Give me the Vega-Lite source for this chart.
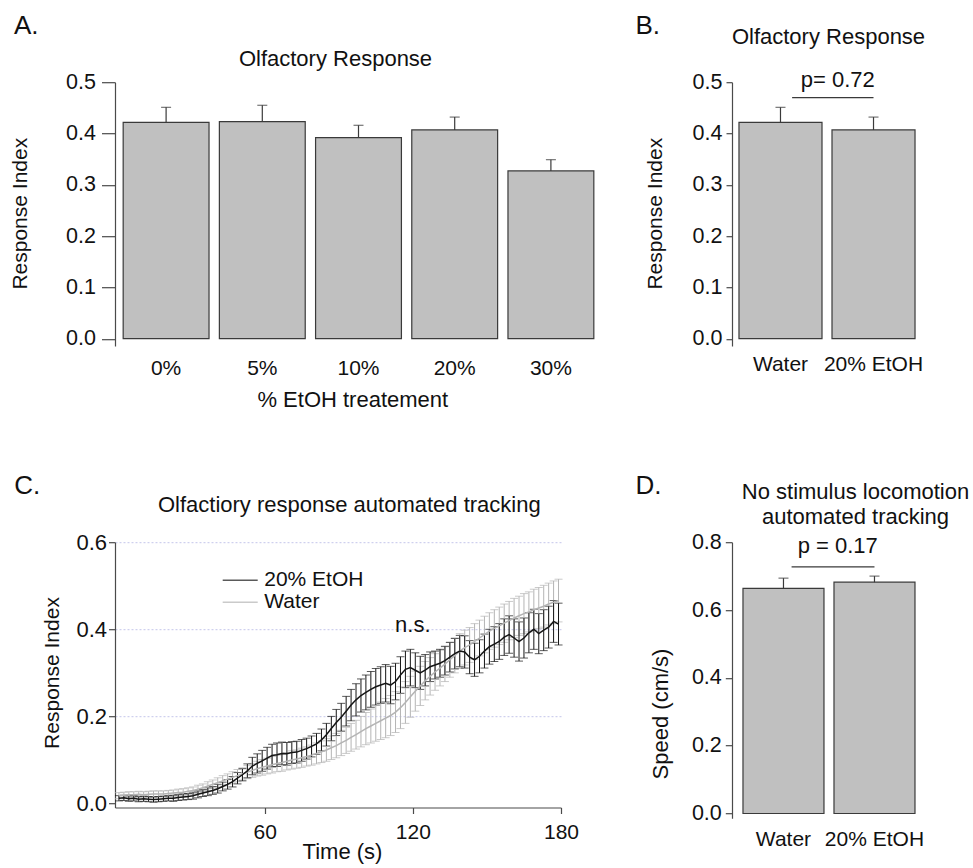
{
  "$schema": "https://vega.github.io/schema/vega-lite/v6.json",
  "autosize": {"type": "none"},
  "padding": {"left": 115, "top": 82.2, "right": 858, "bottom": 785.8},
  "background": "white",
  "config": {
    "font": "Liberation Sans",
    "view": {"stroke": null},
    "axis": {"labelFont": "Liberation Sans", "titleFont": "Liberation Sans", "labelColor": "#111", "titleColor": "#111", "titleFontWeight": "normal", "domainColor": "#4a4a4a", "tickColor": "#4a4a4a", "domainWidth": 1.2, "tickWidth": 1.2, "grid": false, "labelFlush": false, "labelOverlap": false},
    "legend": {"labelFont": "Liberation Sans", "labelColor": "#111"}
  },
  "datasets": {
    "ts": [
      {"t":1,"g":"Water","m":0.018,"s":0.007},{"t":3,"g":"Water","m":0.019,"s":0.007},{"t":5,"g":"Water","m":0.020,"s":0.007},{"t":7,"g":"Water","m":0.020,"s":0.007},{"t":9,"g":"Water","m":0.021,"s":0.007},{"t":11,"g":"Water","m":0.020,"s":0.007},{"t":13,"g":"Water","m":0.021,"s":0.007},{"t":15,"g":"Water","m":0.022,"s":0.007},{"t":17,"g":"Water","m":0.022,"s":0.007},{"t":19,"g":"Water","m":0.022,"s":0.007},
      {"t":21,"g":"Water","m":0.023,"s":0.007},{"t":23,"g":"Water","m":0.024,"s":0.007},{"t":25,"g":"Water","m":0.025,"s":0.008},{"t":27,"g":"Water","m":0.026,"s":0.008},{"t":29,"g":"Water","m":0.028,"s":0.008},{"t":31,"g":"Water","m":0.030,"s":0.008},{"t":33,"g":"Water","m":0.033,"s":0.009},{"t":35,"g":"Water","m":0.036,"s":0.009},{"t":37,"g":"Water","m":0.040,"s":0.010},{"t":39,"g":"Water","m":0.044,"s":0.010},
      {"t":41,"g":"Water","m":0.048,"s":0.011},{"t":43,"g":"Water","m":0.052,"s":0.012},{"t":45,"g":"Water","m":0.056,"s":0.012},{"t":47,"g":"Water","m":0.060,"s":0.013},{"t":49,"g":"Water","m":0.064,"s":0.014},{"t":51,"g":"Water","m":0.068,"s":0.014},{"t":53,"g":"Water","m":0.072,"s":0.015},{"t":55,"g":"Water","m":0.076,"s":0.016},{"t":57,"g":"Water","m":0.080,"s":0.017},{"t":59,"g":"Water","m":0.083,"s":0.018},
      {"t":61,"g":"Water","m":0.086,"s":0.018},{"t":63,"g":"Water","m":0.089,"s":0.019},{"t":65,"g":"Water","m":0.092,"s":0.019},{"t":67,"g":"Water","m":0.094,"s":0.020},{"t":69,"g":"Water","m":0.097,"s":0.020},{"t":71,"g":"Water","m":0.100,"s":0.021},{"t":73,"g":"Water","m":0.102,"s":0.021},{"t":75,"g":"Water","m":0.105,"s":0.022},{"t":77,"g":"Water","m":0.108,"s":0.022},{"t":79,"g":"Water","m":0.111,"s":0.023},
      {"t":81,"g":"Water","m":0.115,"s":0.024},{"t":83,"g":"Water","m":0.119,"s":0.025},{"t":85,"g":"Water","m":0.123,"s":0.026},{"t":87,"g":"Water","m":0.128,"s":0.027},{"t":89,"g":"Water","m":0.133,"s":0.028},{"t":91,"g":"Water","m":0.139,"s":0.029},{"t":93,"g":"Water","m":0.145,"s":0.030},{"t":95,"g":"Water","m":0.152,"s":0.032},{"t":97,"g":"Water","m":0.158,"s":0.033},{"t":99,"g":"Water","m":0.165,"s":0.035},
      {"t":101,"g":"Water","m":0.172,"s":0.037},{"t":103,"g":"Water","m":0.178,"s":0.039},{"t":105,"g":"Water","m":0.184,"s":0.041},{"t":107,"g":"Water","m":0.190,"s":0.043},{"t":109,"g":"Water","m":0.196,"s":0.045},{"t":111,"g":"Water","m":0.202,"s":0.046},{"t":113,"g":"Water","m":0.210,"s":0.047},{"t":115,"g":"Water","m":0.220,"s":0.048},{"t":117,"g":"Water","m":0.232,"s":0.048},{"t":119,"g":"Water","m":0.245,"s":0.047},
      {"t":121,"g":"Water","m":0.258,"s":0.046},{"t":123,"g":"Water","m":0.270,"s":0.045},{"t":125,"g":"Water","m":0.282,"s":0.044},{"t":127,"g":"Water","m":0.292,"s":0.043},{"t":129,"g":"Water","m":0.302,"s":0.042},{"t":131,"g":"Water","m":0.311,"s":0.041},{"t":133,"g":"Water","m":0.320,"s":0.040},{"t":135,"g":"Water","m":0.330,"s":0.040},{"t":137,"g":"Water","m":0.340,"s":0.040},{"t":139,"g":"Water","m":0.350,"s":0.040},
      {"t":141,"g":"Water","m":0.358,"s":0.040},{"t":143,"g":"Water","m":0.364,"s":0.040},{"t":145,"g":"Water","m":0.372,"s":0.041},{"t":147,"g":"Water","m":0.380,"s":0.041},{"t":149,"g":"Water","m":0.388,"s":0.042},{"t":151,"g":"Water","m":0.396,"s":0.042},{"t":153,"g":"Water","m":0.402,"s":0.043},{"t":155,"g":"Water","m":0.408,"s":0.043},{"t":157,"g":"Water","m":0.414,"s":0.044},{"t":159,"g":"Water","m":0.420,"s":0.044},
      {"t":161,"g":"Water","m":0.426,"s":0.045},{"t":163,"g":"Water","m":0.431,"s":0.045},{"t":165,"g":"Water","m":0.436,"s":0.046},{"t":167,"g":"Water","m":0.440,"s":0.046},{"t":169,"g":"Water","m":0.445,"s":0.047},{"t":171,"g":"Water","m":0.449,"s":0.047},{"t":173,"g":"Water","m":0.453,"s":0.048},{"t":175,"g":"Water","m":0.458,"s":0.048},{"t":177,"g":"Water","m":0.462,"s":0.049},{"t":179,"g":"Water","m":0.466,"s":0.049},
      {"t":1,"g":"20% EtOH","m":0.012,"s":0.006},{"t":3,"g":"20% EtOH","m":0.013,"s":0.006},{"t":5,"g":"20% EtOH","m":0.011,"s":0.006},{"t":7,"g":"20% EtOH","m":0.012,"s":0.006},{"t":9,"g":"20% EtOH","m":0.010,"s":0.006},{"t":11,"g":"20% EtOH","m":0.011,"s":0.006},{"t":13,"g":"20% EtOH","m":0.010,"s":0.006},{"t":15,"g":"20% EtOH","m":0.009,"s":0.006},{"t":17,"g":"20% EtOH","m":0.010,"s":0.006},{"t":19,"g":"20% EtOH","m":0.011,"s":0.006},
      {"t":21,"g":"20% EtOH","m":0.012,"s":0.006},{"t":23,"g":"20% EtOH","m":0.012,"s":0.007},{"t":25,"g":"20% EtOH","m":0.014,"s":0.007},{"t":27,"g":"20% EtOH","m":0.015,"s":0.007},{"t":29,"g":"20% EtOH","m":0.016,"s":0.007},{"t":31,"g":"20% EtOH","m":0.018,"s":0.008},{"t":33,"g":"20% EtOH","m":0.021,"s":0.008},{"t":35,"g":"20% EtOH","m":0.024,"s":0.008},{"t":37,"g":"20% EtOH","m":0.027,"s":0.009},{"t":39,"g":"20% EtOH","m":0.030,"s":0.009},
      {"t":41,"g":"20% EtOH","m":0.034,"s":0.010},{"t":43,"g":"20% EtOH","m":0.039,"s":0.010},{"t":45,"g":"20% EtOH","m":0.044,"s":0.011},{"t":47,"g":"20% EtOH","m":0.050,"s":0.012},{"t":49,"g":"20% EtOH","m":0.058,"s":0.013},{"t":51,"g":"20% EtOH","m":0.066,"s":0.014},{"t":53,"g":"20% EtOH","m":0.075,"s":0.016},{"t":55,"g":"20% EtOH","m":0.086,"s":0.020},{"t":57,"g":"20% EtOH","m":0.092,"s":0.022},{"t":59,"g":"20% EtOH","m":0.098,"s":0.024},
      {"t":61,"g":"20% EtOH","m":0.104,"s":0.025},{"t":63,"g":"20% EtOH","m":0.110,"s":0.026},{"t":65,"g":"20% EtOH","m":0.112,"s":0.027},{"t":67,"g":"20% EtOH","m":0.115,"s":0.026},{"t":69,"g":"20% EtOH","m":0.114,"s":0.026},{"t":71,"g":"20% EtOH","m":0.117,"s":0.025},{"t":73,"g":"20% EtOH","m":0.118,"s":0.025},{"t":75,"g":"20% EtOH","m":0.122,"s":0.025},{"t":77,"g":"20% EtOH","m":0.126,"s":0.024},{"t":79,"g":"20% EtOH","m":0.131,"s":0.024},
      {"t":81,"g":"20% EtOH","m":0.137,"s":0.024},{"t":83,"g":"20% EtOH","m":0.146,"s":0.025},{"t":85,"g":"20% EtOH","m":0.158,"s":0.026},{"t":87,"g":"20% EtOH","m":0.172,"s":0.028},{"t":89,"g":"20% EtOH","m":0.186,"s":0.030},{"t":91,"g":"20% EtOH","m":0.198,"s":0.032},{"t":93,"g":"20% EtOH","m":0.212,"s":0.034},{"t":95,"g":"20% EtOH","m":0.226,"s":0.036},{"t":97,"g":"20% EtOH","m":0.238,"s":0.037},{"t":99,"g":"20% EtOH","m":0.248,"s":0.038},
      {"t":101,"g":"20% EtOH","m":0.255,"s":0.040},{"t":103,"g":"20% EtOH","m":0.262,"s":0.041},{"t":105,"g":"20% EtOH","m":0.268,"s":0.042},{"t":107,"g":"20% EtOH","m":0.272,"s":0.042},{"t":109,"g":"20% EtOH","m":0.276,"s":0.043},{"t":111,"g":"20% EtOH","m":0.272,"s":0.043},{"t":113,"g":"20% EtOH","m":0.280,"s":0.042},{"t":115,"g":"20% EtOH","m":0.295,"s":0.042},{"t":117,"g":"20% EtOH","m":0.308,"s":0.042},{"t":119,"g":"20% EtOH","m":0.312,"s":0.042},
      {"t":121,"g":"20% EtOH","m":0.306,"s":0.040},{"t":123,"g":"20% EtOH","m":0.300,"s":0.038},{"t":125,"g":"20% EtOH","m":0.306,"s":0.036},{"t":127,"g":"20% EtOH","m":0.314,"s":0.034},{"t":129,"g":"20% EtOH","m":0.318,"s":0.032},{"t":131,"g":"20% EtOH","m":0.322,"s":0.032},{"t":133,"g":"20% EtOH","m":0.328,"s":0.033},{"t":135,"g":"20% EtOH","m":0.336,"s":0.034},{"t":137,"g":"20% EtOH","m":0.344,"s":0.035},{"t":139,"g":"20% EtOH","m":0.350,"s":0.036},
      {"t":141,"g":"20% EtOH","m":0.348,"s":0.037},{"t":143,"g":"20% EtOH","m":0.336,"s":0.038},{"t":145,"g":"20% EtOH","m":0.330,"s":0.038},{"t":147,"g":"20% EtOH","m":0.338,"s":0.038},{"t":149,"g":"20% EtOH","m":0.350,"s":0.039},{"t":151,"g":"20% EtOH","m":0.360,"s":0.040},{"t":153,"g":"20% EtOH","m":0.366,"s":0.040},{"t":155,"g":"20% EtOH","m":0.372,"s":0.041},{"t":157,"g":"20% EtOH","m":0.382,"s":0.042},{"t":159,"g":"20% EtOH","m":0.388,"s":0.043},
      {"t":161,"g":"20% EtOH","m":0.380,"s":0.044},{"t":163,"g":"20% EtOH","m":0.372,"s":0.045},{"t":165,"g":"20% EtOH","m":0.380,"s":0.046},{"t":167,"g":"20% EtOH","m":0.392,"s":0.046},{"t":169,"g":"20% EtOH","m":0.400,"s":0.046},{"t":171,"g":"20% EtOH","m":0.390,"s":0.046},{"t":173,"g":"20% EtOH","m":0.398,"s":0.047},{"t":175,"g":"20% EtOH","m":0.405,"s":0.048},{"t":177,"g":"20% EtOH","m":0.418,"s":0.048},{"t":179,"g":"20% EtOH","m":0.412,"s":0.048}
    ]
  },
  "columns": 2,
  "align": "each",
  "bounds": "flush",
  "spacing": {"row": 196, "column": 130},
  "concat": [
    {
      "width": 487,
      "height": 263.8,
      "data": {"values": [
        {"pct": "0%", "mean": 0.4215, "upper": 0.451},
        {"pct": "5%", "mean": 0.423, "upper": 0.455},
        {"pct": "10%", "mean": 0.392, "upper": 0.416},
        {"pct": "20%", "mean": 0.407, "upper": 0.432},
        {"pct": "30%", "mean": 0.327, "upper": 0.349}
      ]},
      "layer": [
        {
          "mark": {"type": "bar", "fill": "#c0c0c0", "stroke": "#3a3a3a", "strokeWidth": 1.2},
          "encoding": {
            "x": {"field": "pct", "type": "nominal", "scale": {"domain": ["0%", "5%", "10%", "20%", "30%"], "paddingInner": 0.1076, "paddingOuter": 0.085},
              "axis": {"orient": "bottom", "domain": false, "ticks": false, "tickSize": 0, "labelAngle": 0, "labelFontSize": 21, "labelPadding": 11.8, "title": "% EtOH treatement", "titleFontSize": 22, "titleX": 237.3, "titleY": 60, "titleAlign": "center", "titleBaseline": "alphabetic", "titleAngle": 0}},
            "y": {"field": "mean", "type": "quantitative", "scale": {"domain": [-0.0142, 0.5], "nice": false, "zero": false},
              "axis": {"orient": "left", "values": [0, 0.1, 0.2, 0.3, 0.4, 0.5], "format": ".1f", "tickSize": 13.5, "labelPadding": 6, "labelFontSize": 21.5, "title": "Response Index", "titleFontSize": 21, "titleAngle": -90, "titleX": -95, "titleY": 131, "titleAlign": "center", "titleBaseline": "middle"}},
            "y2": {"datum": 0}
          }
        },
        {
          "mark": {"type": "rule", "color": "#3a3a3a", "strokeWidth": 1.2},
          "encoding": {
            "x": {"field": "pct", "type": "nominal", "axis": null},
            "y": {"field": "mean", "type": "quantitative", "axis": null},
            "y2": {"field": "upper"}
          }
        },
        {
          "mark": {"type": "tick", "color": "#3a3a3a", "thickness": 1.2, "size": 10},
          "encoding": {
            "x": {"field": "pct", "type": "nominal", "axis": {"orient": "top", "domain": false, "ticks": false, "labels": false, "title": "Olfactory Response", "titleFontSize": 22, "titleX": 220, "titleY": -17.2, "titleAlign": "center", "titleBaseline": "alphabetic", "titleAngle": 0}},
            "y": {"field": "upper", "type": "quantitative", "axis": {"orient": "right", "domain": false, "ticks": false, "labels": false, "grid": false, "title": "A.", "titleFontSize": 26, "titleAngle": 0, "titleX": -588.6, "titleY": -48.9, "titleAlign": "left", "titleBaseline": "alphabetic"}}
          }
        }
      ],
      "resolve": {"axis": {"x": "independent", "y": "independent"}}
    },
    {
      "width": 190,
      "height": 263.8,
      "layer": [
        {
          "data": {"values": [{"grp": "Water", "mean": 0.4215, "upper": 0.451}, {"grp": "20% EtOH", "mean": 0.407, "upper": 0.432}]},
          "layer": [
            {
              "mark": {"type": "bar", "fill": "#c0c0c0", "stroke": "#3a3a3a", "strokeWidth": 1.2},
              "encoding": {
                "x": {"field": "grp", "type": "nominal", "scale": {"domain": ["Water", "20% EtOH"], "paddingInner": 0.1075, "paddingOuter": 0.075},
                  "axis": {"orient": "bottom", "domain": false, "ticks": false, "tickSize": 0, "labelAngle": 0, "labelFontSize": 21, "labelPadding": 7.5, "title": null}},
                "y": {"field": "mean", "type": "quantitative", "scale": {"domain": [-0.0142, 0.5], "nice": false, "zero": false},
                  "axis": {"orient": "left", "values": [0, 0.1, 0.2, 0.3, 0.4, 0.5], "format": ".1f", "tickSize": 6, "labelPadding": 4, "labelFontSize": 21.5, "title": "Response Index", "titleFontSize": 21, "titleAngle": -90, "titleX": -77, "titleY": 131, "titleAlign": "center", "titleBaseline": "middle"}},
                "y2": {"datum": 0}
              }
            },
            {
              "mark": {"type": "rule", "color": "#3a3a3a", "strokeWidth": 1.2},
              "encoding": {
                "x": {"field": "grp", "type": "nominal", "axis": null},
                "y": {"field": "mean", "type": "quantitative", "axis": null},
                "y2": {"field": "upper"}
              }
            },
            {
              "mark": {"type": "tick", "color": "#3a3a3a", "thickness": 1.2, "size": 10},
              "encoding": {
                "x": {"field": "grp", "type": "nominal", "axis": {"orient": "top", "domain": false, "ticks": false, "labels": false, "title": "Olfactory Response", "titleFontSize": 22, "titleX": 96, "titleY": -38.2, "titleAlign": "center", "titleBaseline": "alphabetic", "titleAngle": 0}},
                "y": {"field": "upper", "type": "quantitative", "axis": {"orient": "right", "domain": false, "ticks": false, "labels": false, "grid": false, "title": "B.", "titleFontSize": 26, "titleAngle": 0, "titleX": -287, "titleY": -48.9, "titleAlign": "left", "titleBaseline": "alphabetic"}}
              }
            }
          ]
        },
        {
          "data": {"values": [{"from": "Water", "to": "20% EtOH", "ly": 0.47, "ty": 0.4906, "label": "p= 0.72"}]},
          "layer": [
            {
              "mark": {"type": "rule", "color": "#3a3a3a", "strokeWidth": 1.2},
              "encoding": {
                "x": {"field": "from", "type": "nominal", "bandPosition": 0.64, "axis": null},
                "x2": {"field": "to", "bandPosition": 0.5},
                "y": {"field": "ly", "type": "quantitative", "axis": null}
              }
            },
            {
              "mark": {"type": "text", "fontSize": 22, "font": "Liberation Sans", "color": "#111", "align": "center", "baseline": "alphabetic"},
              "encoding": {
                "x": {"field": "from", "type": "nominal", "bandPosition": 1.19, "axis": null},
                "y": {"field": "ty", "type": "quantitative", "axis": null},
                "text": {"field": "label"}
              }
            }
          ]
        }
      ],
      "resolve": {"axis": {"x": "independent", "y": "independent"}}
    },
    {
      "width": 446,
      "height": 265.3,
      "layer": [
        {
          "data": {"name": "ts"},
          "mark": {"type": "errorbar", "ticks": {"size": 8}, "thickness": 1},
          "encoding": {
            "x": {"field": "t", "type": "quantitative", "scale": {"domain": [-0.6, 180], "nice": false, "zero": false}, "axis": null},
            "y": {"field": "m", "type": "quantitative", "scale": {"domain": [-0.0092, 0.6], "nice": false, "zero": false}, "axis": null},
            "yError": {"field": "s"},
            "color": {"field": "g", "type": "nominal", "scale": {"domain": ["20% EtOH", "Water"], "range": ["#151515", "#b4b4b4"]},
              "legend": {"orient": "none", "legendX": 114.2, "legendY": 487.1, "title": null, "symbolType": "M-1.75,0H1.75", "symbolSize": 400, "symbolStrokeWidth": 1.5, "labelFontSize": 21, "labelOffset": 13, "rowPadding": 1, "padding": 0}}
          }
        },
        {
          "data": {"name": "ts"},
          "mark": {"type": "line", "strokeWidth": 1.5},
          "encoding": {
            "x": {"field": "t", "type": "quantitative",
              "axis": {"orient": "bottom", "domain": true, "values": [60, 120, 180], "tickSize": 6, "labelPadding": 8.4, "labelFontSize": 21, "title": "Time (s)", "titleFontSize": 22, "titleX": 227, "titleY": 51, "titleAlign": "center", "titleBaseline": "alphabetic", "titleAngle": 0}},
            "y": {"field": "m", "type": "quantitative",
              "axis": {"orient": "left", "values": [0, 0.2, 0.4, 0.6], "format": ".1f", "tickSize": 6.5, "labelPadding": 2, "labelFontSize": 22, "title": "Response Index", "titleFontSize": 21, "titleAngle": -90, "titleX": -62.6, "titleY": 130.3, "titleAlign": "center", "titleBaseline": "middle"}},
            "color": {"field": "g", "type": "nominal",
              "legend": {"orient": "none", "legendX": 114.2, "legendY": 487.1, "title": null, "symbolType": "M-1.75,0H1.75", "symbolSize": 400, "symbolStrokeWidth": 1.5, "labelFontSize": 21, "labelOffset": 13, "rowPadding": 1, "padding": 0}}
          }
        },
        {
          "data": {"values": [{"t": 120, "v": 0.393, "label": "n.s."}]},
          "mark": {"type": "text", "fontSize": 22, "font": "Liberation Sans", "color": "#111", "align": "center", "baseline": "alphabetic"},
          "encoding": {
            "x": {"field": "t", "type": "quantitative", "axis": {"orient": "top", "domain": false, "ticks": false, "labels": false, "title": "Olfactiory response automated tracking", "titleFontSize": 22, "titleX": 233.8, "titleY": -30.3, "titleAlign": "center", "titleBaseline": "alphabetic", "titleAngle": 0}},
            "y": {"field": "v", "type": "quantitative", "axis": {"orient": "right", "domain": false, "ticks": false, "labels": false, "grid": true, "values": [0.2, 0.4, 0.6], "gridColor": "#c4c6ea", "gridDash": [2, 2], "gridWidth": 1, "title": "C.", "titleFontSize": 26, "titleAngle": 0, "titleX": -547.2, "titleY": -48.7, "titleAlign": "left", "titleBaseline": "alphabetic"}},
            "text": {"field": "label"}
          }
        }
      ],
      "resolve": {"axis": {"x": "independent", "y": "independent"}}
    },
    {
      "width": 190,
      "height": 276,
      "layer": [
        {
          "data": {"values": [{"grp": "Water", "mean": 0.664, "upper": 0.694}, {"grp": "20% EtOH", "mean": 0.682, "upper": 0.700}]},
          "layer": [
            {
              "mark": {"type": "bar", "fill": "#c0c0c0", "stroke": "#3a3a3a", "strokeWidth": 1.2},
              "encoding": {
                "x": {"field": "grp", "type": "nominal", "scale": {"domain": ["Water", "20% EtOH"], "paddingInner": 0.11, "paddingOuter": 0.0989, "align": 0.61},
                  "axis": {"orient": "bottom", "domain": false, "ticks": false, "tickSize": 0, "labelAngle": 0, "labelFontSize": 21, "labelPadding": 10.5, "title": null}},
                "y": {"field": "mean", "type": "quantitative", "scale": {"domain": [-0.0139, 0.8], "nice": false, "zero": false},
                  "axis": {"orient": "left", "values": [0, 0.2, 0.4, 0.6, 0.8], "format": ".1f", "tickSize": 6.7, "labelPadding": 4, "labelFontSize": 21.5, "title": "Speed (cm/s)", "titleFontSize": 22, "titleAngle": -90, "titleX": -72, "titleY": 171.3, "titleAlign": "center", "titleBaseline": "middle"}},
                "y2": {"datum": 0}
              }
            },
            {
              "mark": {"type": "rule", "color": "#3a3a3a", "strokeWidth": 1.2},
              "encoding": {
                "x": {"field": "grp", "type": "nominal", "axis": null},
                "y": {"field": "mean", "type": "quantitative", "axis": null},
                "y2": {"field": "upper"}
              }
            },
            {
              "mark": {"type": "tick", "color": "#3a3a3a", "thickness": 1.2, "size": 10},
              "encoding": {
                "x": {"field": "grp", "type": "nominal", "axis": {"orient": "top", "domain": false, "ticks": false, "labels": false, "title": ["No stimulus locomotion", "automated tracking"], "titleFontSize": 22, "titleLineHeight": 25, "titleX": 123, "titleY": -43.7, "titleAlign": "center", "titleBaseline": "alphabetic", "titleAngle": 0}},
                "y": {"field": "upper", "type": "quantitative", "axis": {"orient": "right", "domain": false, "ticks": false, "labels": false, "grid": false, "title": "D.", "titleFontSize": 26, "titleAngle": 0, "titleX": -287, "titleY": -48.7, "titleAlign": "left", "titleBaseline": "alphabetic"}}
              }
            }
          ]
        },
        {
          "data": {"values": [{"from": "Water", "to": "20% EtOH", "ly": 0.727, "ty": 0.767, "label": "p = 0.17"}]},
          "layer": [
            {
              "mark": {"type": "rule", "color": "#3a3a3a", "strokeWidth": 1.2},
              "encoding": {
                "x": {"field": "from", "type": "nominal", "bandPosition": 0.6, "axis": null},
                "x2": {"field": "to", "bandPosition": 0.5},
                "y": {"field": "ly", "type": "quantitative", "axis": null}
              }
            },
            {
              "mark": {"type": "text", "fontSize": 22, "font": "Liberation Sans", "color": "#111", "align": "center", "baseline": "alphabetic"},
              "encoding": {
                "x": {"field": "from", "type": "nominal", "bandPosition": 1.17, "axis": null},
                "y": {"field": "ty", "type": "quantitative", "axis": null},
                "text": {"field": "label"}
              }
            }
          ]
        }
      ],
      "resolve": {"axis": {"x": "independent", "y": "independent"}}
    }
  ]
}
